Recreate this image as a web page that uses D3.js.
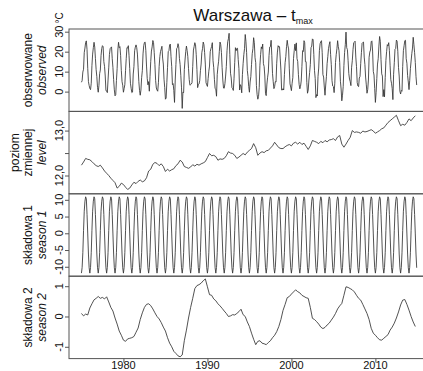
<!DOCTYPE html>
<html>
<head>
<meta charset="utf-8">
<script src="https://cdn.jsdelivr.net/npm/d3@7"></script>
<style>
body{margin:0;background:#fff}
text{font-family:"Liberation Sans",Arial,sans-serif;fill:#111}
</style>
</head>
<body>
<svg width="423" height="371"></svg>
<script>
// monthly observed tmax, one row per year 1975..2014 (Jan..Dec)
var startYear = 1975;
var observed = [
  [4.7,5.5,9.8,11.2,19.5,21.8,24.6,25.4,21.0,11.5,5.0,3.1],
  [1.6,1.0,4.2,13.0,18.8,22.0,24.7,22.3,16.5,11.0,7.5,2.0],
  [-0.3,3.1,9.0,10.8,18.0,21.6,23.0,22.5,15.0,12.6,7.8,0.5],
  [0.4,-0.5,5.8,11.9,18.6,21.5,22.0,22.4,16.5,12.0,6.0,0.9],
  [-2.1,-1.5,5.5,11.5,20.8,24.7,22.0,22.5,18.0,10.5,5.0,3.2],
  [-0.3,1.5,3.5,10.5,16.5,22.0,21.8,23.0,18.0,11.5,4.2,1.7],
  [-0.5,-0.2,8.8,12.5,20.5,22.3,23.4,22.0,18.8,11.9,5.0,0.6],
  [-1.8,0.8,7.0,10.5,18.9,23.0,24.6,24.8,20.5,12.8,6.6,3.4],
  [5.0,0.2,7.6,15.0,20.3,22.4,25.6,24.6,19.5,13.5,5.5,1.8],
  [0.8,0.2,4.5,12.5,17.5,20.1,21.3,22.7,16.8,13.8,6.2,2.0],
  [-3.8,-3.2,4.5,12.0,20.0,20.5,23.4,23.8,17.5,12.5,3.5,4.0],
  [0.5,-5.4,5.8,13.6,21.5,22.0,24.0,22.4,16.6,13.5,8.0,1.9],
  [-8.4,-0.2,-0.5,11.0,15.8,20.0,22.8,20.6,17.5,11.5,6.0,3.2],
  [3.5,3.8,4.5,12.5,20.8,22.6,24.5,23.4,18.5,11.0,2.0,3.5],
  [3.8,5.5,10.5,13.8,19.5,21.5,24.8,23.5,19.5,13.8,4.5,3.4],
  [2.6,6.5,10.2,12.8,20.0,21.5,22.6,24.5,15.5,12.0,6.0,1.5],
  [1.2,-2.3,8.5,12.4,15.2,20.1,24.8,23.5,19.6,12.0,5.8,1.8],
  [1.7,4.0,7.8,12.6,20.5,25.0,26.5,29.2,18.5,9.2,6.8,2.0],
  [1.5,0.6,6.4,14.5,22.0,20.5,21.6,21.7,16.0,11.5,0.8,3.5],
  [2.8,-0.6,8.5,14.0,18.5,21.5,28.6,25.2,19.5,10.6,7.5,2.5],
  [-0.3,4.8,7.5,13.5,19.0,21.5,27.0,24.5,17.0,14.5,3.0,-1.5],
  [-3.8,-2.5,2.0,13.2,18.5,22.4,21.5,23.8,14.0,12.6,7.8,-1.0],
  [-2.0,3.8,7.2,9.8,18.0,22.3,22.5,25.7,18.0,9.0,5.0,1.5],
  [2.5,5.0,4.8,14.2,19.8,23.0,22.3,22.5,16.8,10.8,0.8,0.8],
  [1.5,0.8,8.5,14.5,17.5,22.5,25.7,23.0,21.4,11.4,3.9,2.3],
  [0.5,4.2,7.0,16.5,20.5,23.8,20.5,24.4,16.5,15.1,8.5,3.6],
  [1.4,2.6,5.3,12.6,20.5,20.1,25.5,24.5,15.0,15.0,4.5,-0.8],
  [0.8,5.8,9.5,13.5,22.0,22.8,26.4,26.0,18.5,10.5,6.5,-3.0],
  [-1.5,-2.2,7.5,11.8,20.5,24.0,25.0,25.5,19.5,8.5,7.3,2.3],
  [-1.8,3.3,7.5,14.0,17.5,21.5,23.5,25.0,18.5,13.5,5.5,2.8],
  [2.5,-0.5,4.2,14.6,18.5,21.5,25.5,22.5,20.5,14.5,5.2,1.3],
  [-4.6,-1.8,2.6,13.0,19.6,23.5,29.8,22.0,21.0,15.5,9.0,6.3],
  [5.0,3.0,12.2,15.5,21.0,24.5,24.8,25.2,17.3,12.5,4.5,2.8],
  [2.5,6.8,7.6,14.0,19.5,24.2,24.6,24.8,17.3,13.5,7.3,3.4],
  [-0.8,1.0,5.8,17.2,19.8,20.8,25.0,25.4,20.3,10.1,8.3,1.5],
  [-5.4,-0.5,6.5,13.8,16.5,22.8,27.6,25.2,16.1,8.9,7.8,-2.5],
  [1.0,-2.6,7.0,15.6,20.0,23.5,22.9,24.5,20.5,13.2,6.0,4.2],
  [1.5,-4.0,8.7,14.5,21.2,21.6,25.8,25.2,20.2,12.0,7.8,0.2],
  [-1.2,0.6,0.2,12.5,20.5,23.0,25.5,25.7,16.5,14.2,8.0,4.8],
  [1.0,5.5,11.5,15.3,19.0,21.8,27.2,23.5,19.5,14.6,7.5,3.3]
];

// seasonal component 1 (same pattern every year, Jan..Dec)
var season1Profile = [-11.9,-10.2,-5.8,0.8,6.6,9.6,10.9,10.3,5.6,-0.2,-6.2,-10.3];

// level, quarterly values 1975.00 .. 2014.75
var level = [
  12.23,12.30,12.38,12.36, 12.35,12.31,12.26,12.22, 12.20,12.23,12.17,12.10,
  12.05,12.00,11.94,11.89, 11.84,11.72,11.76,11.83, 11.80,11.74,11.69,11.72,
  11.79,11.85,11.82,11.87, 11.90,11.86,11.88,11.95, 12.10,12.14,12.25,12.29,
  12.27,12.22,12.26,12.20, 12.09,12.14,12.10,12.13, 12.15,12.22,12.26,12.34,
  12.30,12.20,12.18,12.16, 12.19,12.24,12.21,12.25, 12.23,12.26,12.28,12.31,
  12.40,12.49,12.44,12.45, 12.42,12.34,12.37,12.36, 12.38,12.44,12.53,12.50,
  12.49,12.45,12.38,12.41, 12.45,12.49,12.46,12.52, 12.56,12.60,12.71,12.62,
  12.45,12.50,12.53,12.51, 12.55,12.56,12.61,12.66, 12.74,12.68,12.62,12.60,
  12.60,12.64,12.67,12.69, 12.66,12.72,12.74,12.70, 12.74,12.69,12.72,12.65,
  12.58,12.66,12.78,12.76, 12.74,12.71,12.76,12.73, 12.78,12.75,12.79,12.80,
  12.82,12.78,12.86,12.89, 12.70,12.63,12.70,12.78, 12.85,13.00,12.96,12.97,
  12.96,12.94,12.99,12.97, 12.98,13.00,13.02,12.99, 12.94,12.97,13.00,13.04,
  13.06,13.12,13.18,13.22, 13.26,13.30,13.34,13.22, 13.11,13.14,13.12,13.18,
  13.26,13.22,13.28,13.33
];

// seasonal component 2, quarterly values 1975.00 .. 2014.75
var season2 = [
  0.10,0.02,0.08,0.05, 0.28,0.42,0.55,0.60, 0.66,0.60,0.63,0.58,
  0.65,0.48,0.30,0.18, -0.05,-0.25,-0.48,-0.62, -0.78,-0.82,-0.74,-0.72,
  -0.70,-0.66,-0.52,-0.38, -0.10,0.12,0.30,0.40, 0.42,0.36,0.25,0.12,
  0.00,-0.08,-0.20,-0.35, -0.48,-0.70,-0.88,-1.00, -1.15,-1.22,-1.30,-1.33,
  -1.27,-0.80,-0.45,-0.05, 0.30,0.60,0.92,1.02, 1.05,1.10,1.18,1.24,
  0.98,0.72,0.70,0.58, 0.52,0.42,0.35,0.27, 0.18,0.10,0.00,0.02,
  0.06,0.05,0.10,0.16, 0.24,0.06,0.00,-0.18, -0.33,-0.55,-0.75,-0.93,
  -0.82,-0.80,-0.88,-0.90, -0.93,-0.86,-0.80,-0.70, -0.62,-0.50,-0.33,-0.10,
  0.20,0.40,0.62,0.66, 0.74,0.81,0.88,0.82, 0.78,0.70,0.66,0.62,
  0.60,0.30,-0.06,-0.10, -0.17,-0.25,-0.35,-0.40, -0.36,-0.28,-0.22,-0.12,
  -0.02,0.10,0.25,0.35, 0.43,0.70,0.98,0.96, 0.92,0.88,0.81,0.70,
  0.60,0.54,0.40,0.25, 0.10,-0.10,-0.39,-0.55, -0.62,-0.70,-0.77,-0.78,
  -0.72,-0.66,-0.60,-0.45, -0.35,-0.22,-0.05,0.15, 0.38,0.54,0.56,0.40,
  0.21,0.00,-0.18,-0.33
];

var xTicks = [1980, 1990, 2000, 2010];

// build time-indexed series
var obsSeries = [];
observed.forEach((row, yi)=>{
    row.forEach((v, m)=>{ obsSeries.push({t: startYear + yi + m / 12, v: v}); });
});
var s1Series = obsSeries.map((d, i)=>({t: d.t, v: season1Profile[i % 12]}));
var levelSeries = level.map((v, i)=>({t: startYear + i / 4, v: v}));
var s2Series = season2.map((v, i)=>({t: startYear + i / 4, v: v}));

var panels = [
    {data: obsSeries, top: 29, bottom: 111.4, domain: [-9.9, 31.35],
     ticks: [0, 10, 20, 30], fmt: d=>d,
     names: [["obserwowane", false], ["observed", true]]},
    {data: levelSeries, top: 111.4, bottom: 193.8, domain: [11.593, 13.427],
     ticks: [12, 12.5, 13], fmt: d=>d == 12.5 ? "" : d.toFixed(1).replace(".", ","),
     names: [["poziom", false], ["zmiennej", false], ["level", true]]},
    {data: s1Series, top: 193.8, bottom: 276.2, domain: [-12.82, 11.8],
     ticks: [-10, -5, 0, 5, 10], fmt: d=>String(d),
     names: [["składowa 1", false], ["season 1", true]]},
    {data: s2Series, top: 276.2, bottom: 358.6, domain: [-1.39, 1.33],
     ticks: [-1, 0, 1], fmt: d=>String(d),
     names: [["składowa 2", false], ["season 2", true]]}
];

var svg = d3.select("svg");
var left = 69, right = 430;

var x = d3.scaleLinear()
          .domain([1973.4, 2016.5])
          .range([left - 1, right]);

panels.forEach((p, pi)=>{
    var y = d3.scaleLinear().domain(p.domain).range([p.bottom, p.top]);

    var line = d3.line()
                 .x(d=>x(d.t))
                 .y(d=>y(d.v));

    svg.append("path")
        .datum(p.data)
        .attr("d", line)
        .attr("fill", "none")
        .attr("stroke", "#333")
        .attr("stroke-width", 0.85)
        .attr("stroke-linejoin", "round");

    svg.append("rect")
        .attr("x", left)
        .attr("y", p.top)
        .attr("width", right - left)
        .attr("height", p.bottom - p.top)
        .attr("fill", "none")
        .attr("stroke", "#555")
        .attr("stroke-width", 1);

    var ax = svg.append("g")
        .attr("transform", "translate(" + left + ",0)")
        .call(d3.axisLeft(y).tickValues(p.ticks).tickSize(4).tickFormat(""));
    ax.select(".domain").remove();
    ax.selectAll("line").attr("stroke", "#555");

    svg.selectAll(null)
        .data(p.ticks)
        .enter()
        .append("text")
            .attr("transform", d=>"translate(62.5," + y(d) + ") rotate(-90)")
            .attr("text-anchor", "middle")
            .style("font-size", "11px")
            .text(p.fmt);

    var cols = p.names.length == 3 ? [18.5, 32, 46] : [32, 46];
    var mid = (p.top + p.bottom) / 2;
    p.names.forEach((n, i)=>{
        svg.append("text")
            .attr("transform", "translate(" + cols[i] + "," + mid + ") rotate(-90)")
            .attr("text-anchor", "middle")
            .style("font-size", "12px")
            .style("font-style", n[1] ? "italic" : "normal")
            .text(n[0]);
    });
});

// unit label
svg.append("text")
    .attr("transform", "translate(62.5,18) rotate(-90)")
    .attr("text-anchor", "middle")
    .style("font-size", "10px")
    .text("°C");

// bottom time axis
var xa = svg.append("g")
    .attr("transform", "translate(0,358.6)")
    .call(d3.axisBottom(x).tickValues(xTicks).tickSize(4).tickFormat(""));
xa.select(".domain").remove();
xa.selectAll("line").attr("stroke", "#555");

svg.selectAll(null)
    .data(xTicks)
    .enter()
    .append("text")
        .attr("x", d=>x(d))
        .attr("y", 368.6)
        .attr("text-anchor", "middle")
        .style("font-size", "11px")
        .text(d=>d);

// title
var title = svg.append("text")
    .attr("x", 253)
    .attr("y", 21)
    .attr("text-anchor", "middle")
    .style("font-size", "17px");
title.append("tspan").text("Warszawa – t");
title.append("tspan")
    .attr("dy", 3.3)
    .style("font-size", "9px")
    .text("max");
</script>
</body>
</html>
